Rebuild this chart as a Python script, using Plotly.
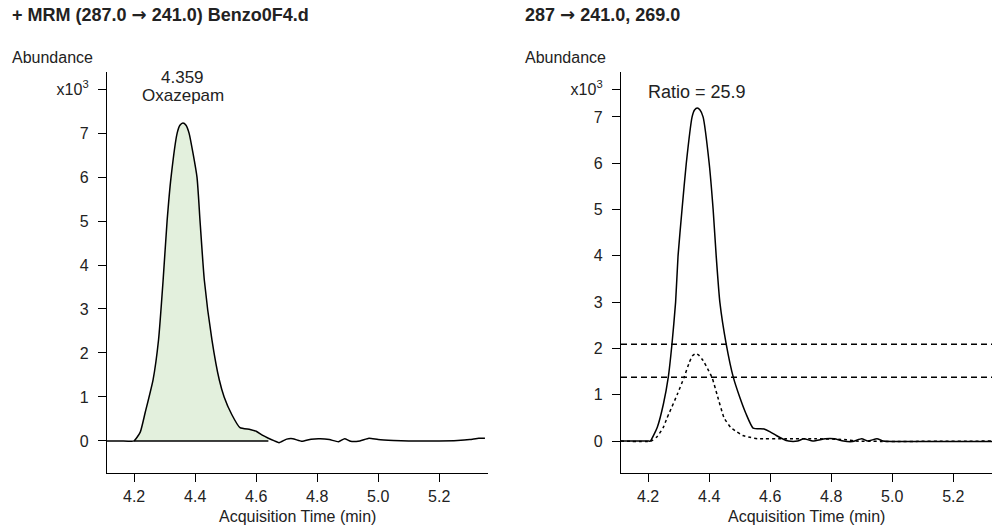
import plotly.graph_objects as go

# ---------------- data ----------------
# Left panel: MRM 287.0 -> 241.0 (abundance x10^3)
time_q = [4.11, 4.15, 4.19, 4.20, 4.22, 4.236, 4.262, 4.28, 4.295, 4.308, 4.321, 4.341, 4.35,
          4.36, 4.37, 4.38, 4.406, 4.416, 4.43, 4.455, 4.479, 4.495, 4.52, 4.547, 4.58,
          4.60, 4.62, 4.64, 4.66, 4.675, 4.70, 4.72, 4.75, 4.78, 4.81, 4.84, 4.87, 4.89,
          4.91, 4.94, 4.97, 5.00, 5.05, 5.10, 5.20, 5.26, 5.30, 5.33, 5.35]
abund_q = [0.0, 0.0, -0.01, 0.0, 0.2, 0.64, 1.39, 2.3, 3.66, 5.0, 6.0, 7.0, 7.18,
           7.23, 7.18, 7.0, 6.0, 5.0, 3.66, 2.3, 1.39, 1.0, 0.6, 0.3, 0.26,
           0.22, 0.13, 0.06, 0.0, -0.04, 0.04, 0.05, -0.01, 0.04, 0.05, 0.03, -0.02, 0.05,
           -0.01, 0.0, 0.06, 0.03, 0.01, 0.0, 0.0, 0.01, 0.03, 0.06, 0.06]
integ_start, integ_end = 4.20, 4.64

# Right panel: quantifier (solid) and qualifier (dotted)
time_r = [4.11, 4.15, 4.20, 4.207, 4.23, 4.25, 4.266, 4.278, 4.29, 4.298, 4.311, 4.325, 4.344,
          4.352, 4.361, 4.37, 4.38, 4.40, 4.413, 4.423, 4.435, 4.456, 4.479, 4.50, 4.52,
          4.544, 4.58, 4.60, 4.62, 4.64, 4.66, 4.69, 4.71, 4.74, 4.78, 4.81, 4.84, 4.87,
          4.90, 4.92, 4.95, 4.97, 5.00, 5.10, 5.20, 5.33]
abund_r = [0.0, 0.0, 0.0, 0.0, 0.3, 0.8, 1.38, 2.09, 3.0, 4.0, 5.0, 6.0, 7.0,
           7.15, 7.19, 7.15, 7.0, 6.0, 5.0, 4.0, 3.0, 2.09, 1.38, 0.95, 0.6,
           0.28, 0.26, 0.2, 0.12, 0.05, 0.0, 0.0, 0.05, 0.0, 0.05, 0.05, 0.0, -0.01,
           0.05, 0.0, 0.05, 0.0, -0.01, -0.01, -0.01, -0.01]
time_qual = [4.11, 4.21, 4.23, 4.25, 4.262, 4.27, 4.295, 4.318, 4.335, 4.345, 4.355, 4.365,
             4.38, 4.395, 4.41, 4.426, 4.449, 4.47, 4.49, 4.51, 4.534, 4.56, 4.65, 4.75,
             4.85, 4.88, 5.33]
abund_qual = [0.0, 0.0, 0.1, 0.3, 0.5, 0.62, 1.0, 1.38, 1.7, 1.84, 1.89, 1.86, 1.74,
              1.56, 1.36, 1.0, 0.5, 0.3, 0.2, 0.12, 0.08, 0.05, 0.05, 0.05,
              0.03, 0.0, 0.0]
ratio_limits = [2.09, 1.38]

y_ticks = [0, 1, 2, 3, 4, 5, 6, 7]
x_ticks = [4.2, 4.4, 4.6, 4.8, 5.0, 5.2]
x_ticktext = ["4.2", "4.4", "4.6", "4.8", "5.0", "5.2"]

FONT = "Liberation Sans, Arial, sans-serif"
ARROW = '<span style="font-family:DejaVu Sans">→</span>'
W, H = 992, 527

fig = go.Figure()

# fill of integrated region
fill_x = [t for t in time_q if integ_start <= t <= integ_end]
fill_y = [a for t, a in zip(time_q, abund_q) if integ_start <= t <= integ_end]
fig.add_trace(go.Scatter(x=fill_x, y=fill_y, mode="lines", fill="tozeroy",
                         fillcolor="#e3f0dd", line=dict(width=0, shape="spline", smoothing=0.5),
                         xaxis="x", yaxis="y", hoverinfo="skip"))
fig.add_trace(go.Scatter(x=[integ_start, integ_end], y=[0, 0], mode="lines",
                         line=dict(color="black", width=1.5), xaxis="x", yaxis="y"))
fig.add_trace(go.Scatter(x=time_q, y=abund_q, mode="lines",
                         line=dict(color="black", width=1.5, shape="spline", smoothing=0.5),
                         xaxis="x", yaxis="y"))

# right panel
fig.add_trace(go.Scatter(x=time_qual, y=abund_qual, mode="lines",
                         line=dict(color="black", width=1.5, dash="dot", shape="spline", smoothing=0.5),
                         xaxis="x2", yaxis="y2"))
fig.add_trace(go.Scatter(x=time_r, y=abund_r, mode="lines",
                         line=dict(color="black", width=1.5, shape="spline", smoothing=0.5),
                         xaxis="x2", yaxis="y2"))

for lim in ratio_limits:
    fig.add_shape(type="line", xref="x2 domain", x0=0, x1=1, yref="y2", y0=lim, y1=lim,
                  line=dict(color="black", width=1.5, dash="6px,4px"))

ydom = [1 - 473 / H, 1 - 72 / H]
axis_common = dict(showline=True, linecolor="black", linewidth=1.3, showgrid=False,
                   zeroline=False, ticks="outside", ticklen=8, tickcolor="black",
                   tickwidth=1.2, tickfont=dict(family=FONT, size=16, color="#222"))

fig.update_layout(
    width=W, height=H, showlegend=False,
    paper_bgcolor="white", plot_bgcolor="white",
    margin=dict(l=0, r=0, t=0, b=0),
    xaxis=dict(domain=[107 / W, 488 / W], range=[4.111, 5.36], anchor="y",
               tickvals=x_ticks, ticktext=x_ticktext, ticklabelstandoff=1, **axis_common),
    yaxis=dict(domain=ydom, range=[-0.73, 8.39], anchor="x",
               tickvals=y_ticks + [8], ticktext=[str(v) for v in y_ticks] + ["x10<sup>3</sup>"],
               ticklabelstandoff=6, **axis_common),
    xaxis2=dict(domain=[621 / W, 1.0], range=[4.111, 5.327], anchor="y2",
                tickvals=x_ticks, ticktext=x_ticktext, ticklabelstandoff=1, **axis_common),
    yaxis2=dict(domain=ydom, range=[-0.69, 7.97], anchor="x2",
                tickvals=y_ticks + [7.6], ticktext=[str(v) for v in y_ticks] + ["x10<sup>3</sup>"],
                ticklabelstandoff=6, **axis_common),
)

def ann(text, x, y, size=16, bold=False, xanchor="left", xref="paper", yref="paper"):
    fig.add_annotation(text=f"<b>{text}</b>" if bold else text, x=x, y=y, xref=xref, yref=yref,
                       xanchor=xanchor, yanchor="middle", showarrow=False,
                       font=dict(family=FONT, size=size, color="#222"))

ann(f"+ MRM (287.0 {ARROW} 241.0) Benzo0F4.d", 10 / W, 1 - 14 / H, size=18, bold=True)
ann(f"287 {ARROW} 241.0, 269.0", 523 / W, 1 - 14 / H, size=18, bold=True)
ann("Abundance", 10 / W, 1 - 57 / H)
ann("Abundance", 523 / W, 1 - 57 / H)
ann("Acquisition Time (min)", (107 + 488) / 2 / W, 1 - 516 / H, xanchor="center")
ann("Acquisition Time (min)", (621 + 992) / 2 / W, 1 - 516 / H, xanchor="center")
ann("4.359", 4.359, 1 - 77 / H, size=17, xanchor="center", xref="x")
ann("Oxazepam", 4.359, 1 - 96 / H, size=17, xanchor="center", xref="x")
ann("Ratio = 25.9", 697 / W, 1 - 92 / H, size=18, xanchor="center")

fig.write_html("out.html", config={"displayModeBar": False},
               post_script="document.body.style.margin='0px';document.body.style.overflow='hidden';")
